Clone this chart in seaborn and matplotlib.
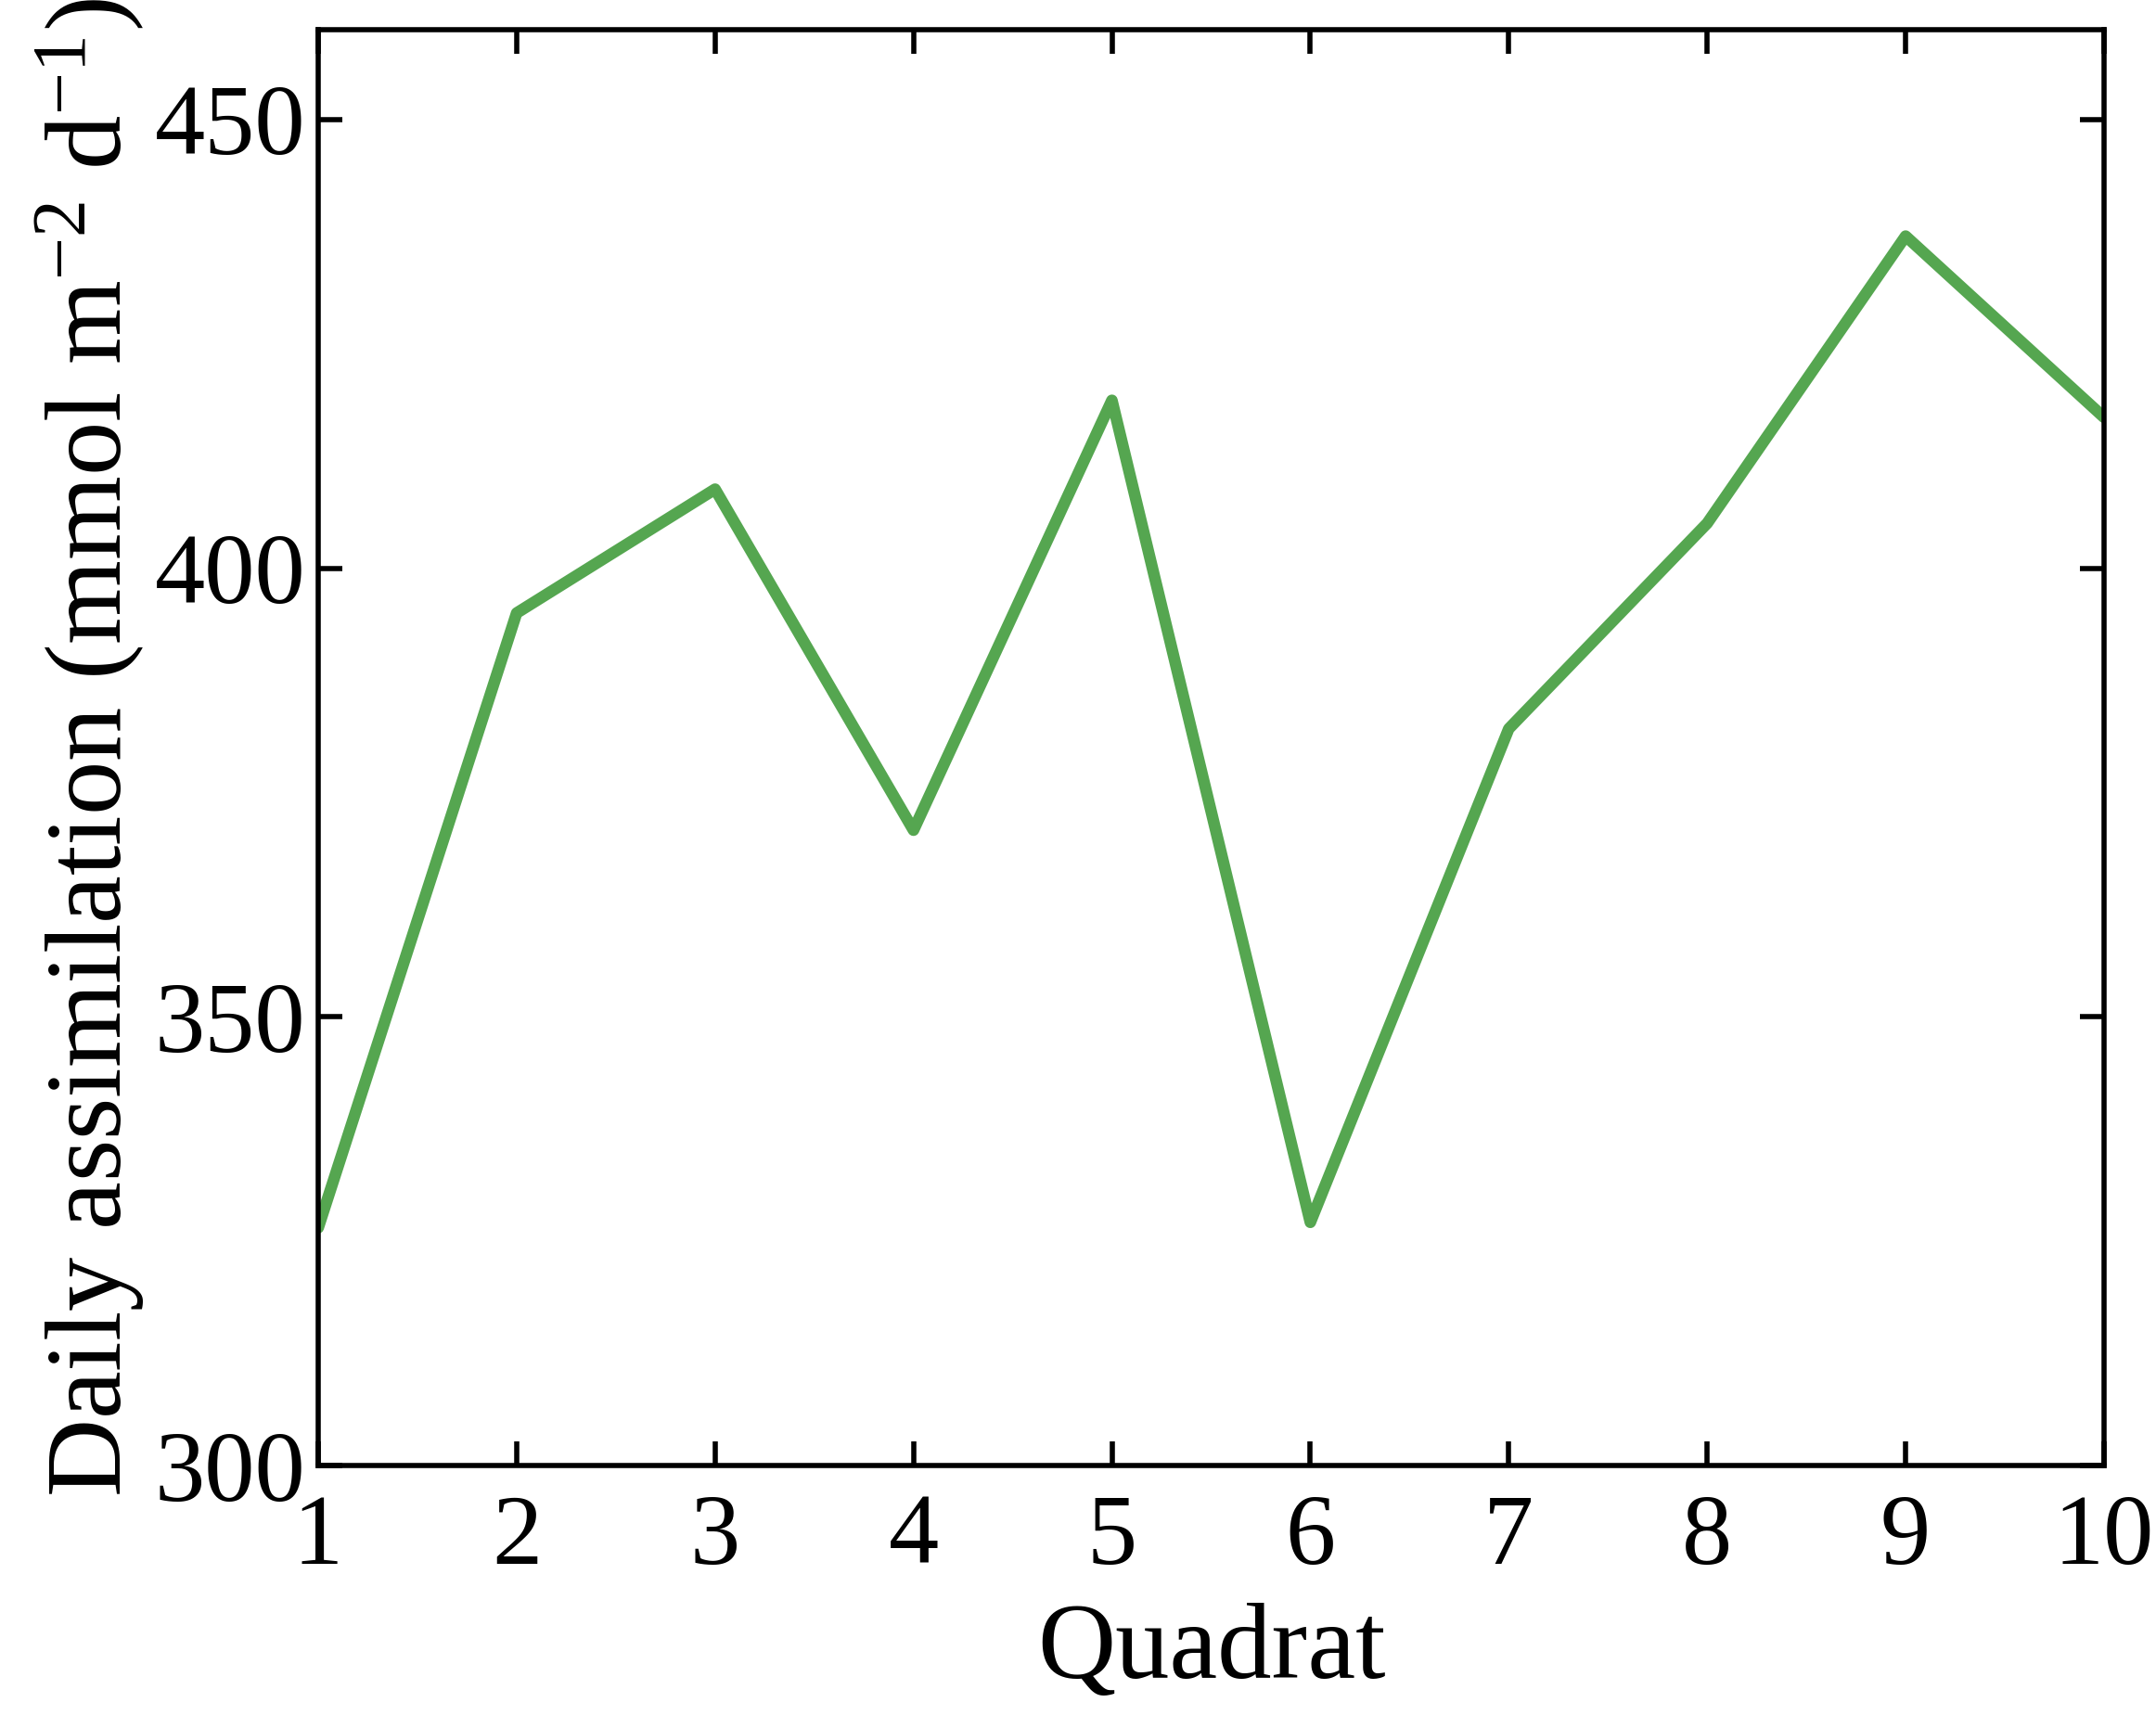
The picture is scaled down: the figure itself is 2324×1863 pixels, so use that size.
import pandas as pd
import matplotlib
matplotlib.use('Agg')
import matplotlib.pyplot as plt
import seaborn as sns

# values
quadrat = [1, 2, 3, 4, 5, 6, 7, 8, 9, 10]
assimilation = [326.5, 395.0, 408.8, 370.8, 418.7, 327.1, 382.1, 405.0, 437.0, 416.8]
y_ticks = [300, 350, 400, 450]

df = pd.DataFrame({'Quadrat': quadrat, 'Assimilation': assimilation})

sns.set_style('ticks')
plt.rcParams['font.family'] = ['Liberation Serif', 'DejaVu Serif']
plt.rcParams['mathtext.fontset'] = 'custom'
plt.rcParams['mathtext.rm'] = 'Liberation Serif'
plt.rcParams['mathtext.it'] = 'Liberation Serif:italic'
plt.rcParams['text.color'] = 'black'
plt.rcParams['axes.labelcolor'] = 'black'

fig = plt.figure(figsize=(23.24, 18.63), dpi=100)
ax = fig.add_axes([0.1476, 0.1519, 0.8283, 0.8309])

sns.lineplot(data=df, x='Quadrat', y='Assimilation', color='#55a650',
             linewidth=9, ax=ax)

ax.set_xlim(1, 10)
ax.set_ylim(300, 460)
ax.set_xticks(quadrat)
ax.set_yticks(y_ticks)

for side in ['left', 'right', 'top', 'bottom']:
    ax.spines[side].set_linewidth(4)
    ax.spines[side].set_color('black')

ax.tick_params(direction='in', length=19, width=4, top=True, right=True,
               labelsize=78, colors='black')
ax.tick_params(axis='x', pad=22)
ax.tick_params(axis='y', pad=10)

ax.set_xlabel('Quadrat', fontsize=84, labelpad=14)
ax.set_ylabel('Daily assimilation (mmol m$^{-2}$ d$^{-1}$)', fontsize=84, labelpad=6)

fig.savefig('out.png', dpi=100, facecolor='white')
